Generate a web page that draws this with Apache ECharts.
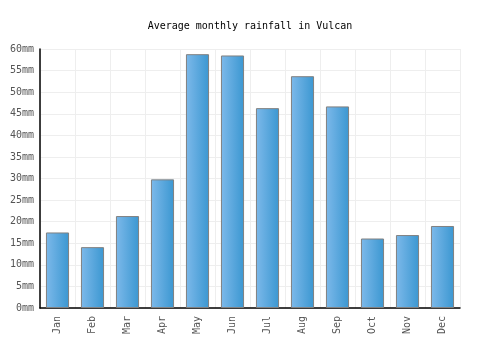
<!DOCTYPE html>
<html><head><meta charset="utf-8">
<script src="https://cdn.jsdelivr.net/npm/echarts@6/dist/echarts.min.js"></script>
<style>html,body{margin:0;padding:0;background:#fff}#c{width:500px;height:350px}</style>
</head><body><div id="c"></div>
<script>
var months = ['Jan','Feb','Mar','Apr','May','Jun','Jul','Aug','Sep','Oct','Nov','Dec'];
var rainfall = [17.5, 14.1, 21.3, 29.8, 58.8, 58.5, 46.3, 53.7, 46.7, 16.1, 16.9, 19.0];
var title = 'Average monthly rainfall in Vulcan';
var font = 'DejaVu Sans Mono';
var chart = echarts.init(document.getElementById('c'), null, {renderer:'canvas'});
chart.setOption({
  animation:false,
  backgroundColor:'#fff',
  title:{text:title,left:'center',top:16,textStyle:{fontFamily:font,fontSize:10,fontWeight:'normal',color:'#000'}},
  grid:{left:40,right:40,top:49,bottom:42,containLabel:false},
  xAxis:{type:'category',data:months,
    axisLine:{lineStyle:{color:'#000',width:1.5}},
    axisTick:{show:false},
    axisLabel:{rotate:90,fontFamily:font,fontSize:10,color:'#555',margin:8},
    splitLine:{show:true,lineStyle:{color:'#eeeeee'}}},
  yAxis:{type:'value',min:0,max:60,interval:5,
    axisLine:{show:true,lineStyle:{color:'#000',width:1.5}},
    axisTick:{show:false},
    axisLabel:{formatter:'{value}mm',fontFamily:font,fontSize:10,color:'#555',margin:6},
    splitLine:{show:true,lineStyle:{color:'#eeeeee'}}},
  series:[{type:'bar',data:rainfall,barWidth:'66%',
    itemStyle:{borderColor:'#808080',borderWidth:1,
      color:new echarts.graphic.LinearGradient(0,0,1,0,[{offset:0,color:'#7db9ea'},{offset:1,color:'#3b97d1'}])}}]
});
</script></body></html>
